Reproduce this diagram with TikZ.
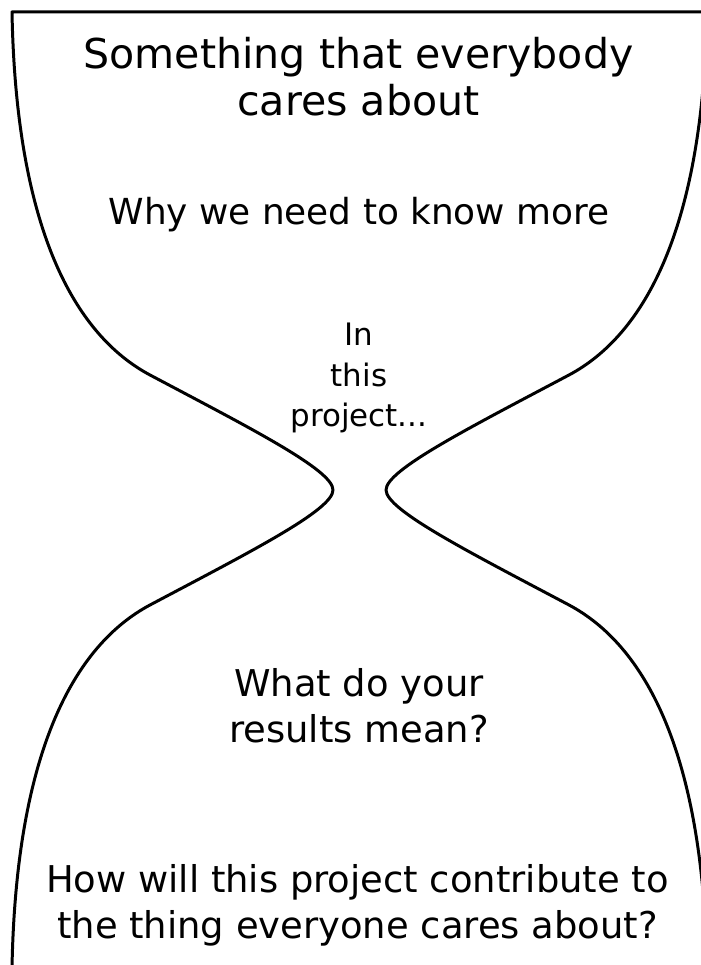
\documentclass[tikz,border=0pt]{standalone}
\usepackage{fontspec}
\setmainfont{DejaVu Sans}
\tikzset{
  outline/.style={line width=0.85pt, line join=round},
  toptext/.style={align=center, inner sep=0pt, font=\fontsize{11.7}{13.4}\selectfont},
  midtext/.style={align=center, inner sep=0pt, font=\fontsize{10.5}{13.1}\selectfont},
  smalltext/.style={align=center, inner sep=0pt, font=\fontsize{8.8}{11.5}\selectfont}
}
\begin{document}
\begin{tikzpicture}
  \useasboundingbox (0, 0) rectangle (7, 9.65);

  % Left side of the glass
  \draw [outline] (7.07, 9.53) -- (0.12, 9.53)
        .. controls (0.16, 7.35) and (0.75, 6.30) .. (1.50, 5.90)
        .. controls (2.50, 5.37) and (3.33, 4.95) .. (3.33, 4.75)
        .. controls (3.33, 4.55) and (2.50, 4.13) .. (1.50, 3.60)
        .. controls (0.75, 3.20) and (0.16, 2.15) .. (0.12, -0.03);

  % Right side of the glass
  \draw [outline] (7.07, 9.53)
        .. controls (7.03, 7.35) and (6.44, 6.30) .. (5.69, 5.90)
        .. controls (4.69, 5.37) and (3.86, 4.95) .. (3.86, 4.75)
        .. controls (3.86, 4.55) and (4.69, 4.13) .. (5.69, 3.60)
        .. controls (6.44, 3.20) and (7.03, 2.15) .. (7.07, -0.03);

  % Texts
  \node [toptext] (care) at (3.585, 8.88) {Something that everybody\\cares about};
  \node [midtext, font=\fontsize{10.2}{13.1}\selectfont] (why) at (3.59, 7.50) {Why we need to know more};
  \node [smalltext] (proj) at (3.59, 5.87) {In\\this\\project...};
  \node [midtext] (mean) at (3.59, 2.59) {What do your\\results mean?};
  \node [midtext] (contrib) at (3.575, 0.60) {How will this project contribute to\\the thing everyone cares about?};
\end{tikzpicture}
\end{document}
